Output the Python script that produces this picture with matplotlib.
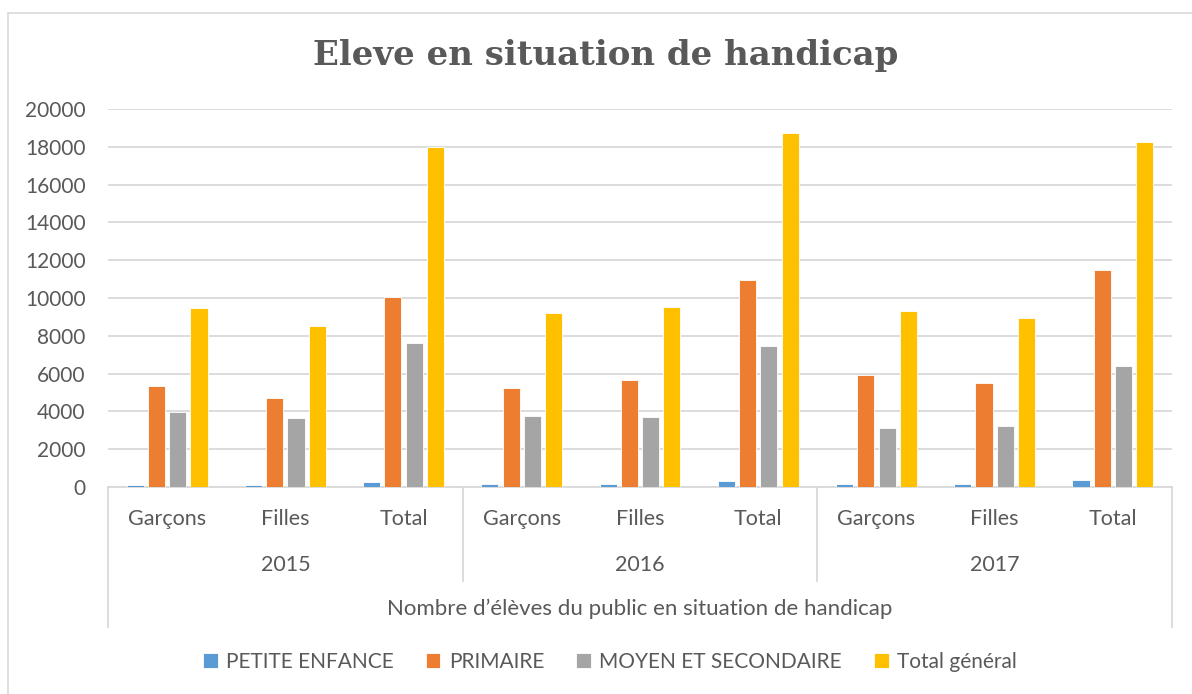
import matplotlib
matplotlib.use("Agg")
import matplotlib.pyplot as plt
from matplotlib.patches import Rectangle
from matplotlib.lines import Line2D
import numpy as np

plt.rcParams['font.family'] = ['Lato', 'DejaVu Sans']

years = ["2015", "2016", "2017"]
subcats = ["Garçons", "Filles", "Total"]
series_names = ["PETITE ENFANCE", "PRIMAIRE", "MOYEN ET SECONDAIRE", "Total général"]
petite_enfance = [120, 105, 264, 159, 141, 317, 176, 176, 388]
primaire = [5357, 4705, 10062, 5251, 5656, 10943, 5938, 5480, 11471]
moyen_secondaire = [3965, 3648, 7612, 3753, 3683, 7454, 3137, 3242, 6396]
total_general = [9480, 8511, 17991, 9216, 9533, 18749, 9322, 8952, 18273]
outer_label = "Nombre d\u2019élèves du public en situation de handicap"
title = "Eleve en situation de handicap"
yticks = list(range(0, 20001, 2000))

colors = ["#5B9BD5", "#ED7D31", "#A5A5A5", "#FFC000"]
text_col = "#595959"
grid_col = "#D9D9D9"

W, H = 1192, 694
fig = plt.figure(figsize=(W / 100, H / 100), dpi=100)

def fx(px):
    return px / W

def fy(py):
    return 1 - py / H

# outer border (only top and left visible)
fig.add_artist(Rectangle((fx(8), fy(900)), fx(1400), fy(13) - fy(900),
                         transform=fig.transFigure, fill=False,
                         edgecolor=grid_col, linewidth=1.2))

left, right, top, bottom = 108, 1172, 109, 487
ax = fig.add_axes([fx(left), fy(bottom), fx(right - left), fy(top) - fy(bottom)])

n = len(years) * len(subcats)
x = np.arange(n)
pitch = 0.18
bw = 0.145
all_series = [petite_enfance, primaire, moyen_secondaire, total_general]
for i, (vals, c, name) in enumerate(zip(all_series, colors, series_names)):
    ax.bar(x + (i - 1.5) * pitch, vals, width=bw, color=c, label=name,
           edgecolor="white", linewidth=0.6, zorder=3)

ax.set_xlim(-0.5, n - 0.5)
ax.set_ylim(0, 20000)
ax.set_yticks(yticks)
ax.set_yticklabels([str(v) for v in yticks], fontsize=15, color=text_col)
ax.yaxis.grid(True, color=grid_col, linewidth=1.3, zorder=0)
ax.set_axisbelow(True)
ax.tick_params(axis='y', length=0, pad=16)
ax.tick_params(axis='x', length=0)
ax.set_xticks([])
for s in ["top", "right", "left"]:
    ax.spines[s].set_visible(False)
ax.spines["bottom"].set_color(grid_col)
ax.spines["bottom"].set_linewidth(1.3)

# multi-level category axis
def vline(px, y0, y1):
    fig.add_artist(Line2D([fx(px), fx(px)], [fy(y0), fy(y1)],
                          transform=fig.transFigure, color=grid_col, linewidth=1.3))

vline(left, bottom, 627)
vline(right, bottom, 627)
grp_w = (right - left) / len(years)
for k in range(1, len(years)):
    vline(left + k * grp_w, bottom, 581)

cat_w = (right - left) / n
for j in range(n):
    cx = left + (j + 0.5) * cat_w
    fig.text(fx(cx), fy(519), subcats[j % 3], ha="center", va="center",
             fontsize=15.5, color=text_col)
for k, yr in enumerate(years):
    cx = left + (k + 0.5) * grp_w
    fig.text(fx(cx), fy(565), yr, ha="center", va="center",
             fontsize=15.5, color=text_col)
fig.text(fx((left + right) / 2), fy(609), outer_label, ha="center", va="center",
         fontsize=16, color=text_col)

fig.text(fx(606), fy(55), title, ha="center", va="center", fontsize=24.5,
         fontweight="bold", color=text_col, family=["DejaVu Serif"])

leg = fig.legend(loc="center", bbox_to_anchor=(fx(610), fy(662)), ncol=4,
                 frameon=False, fontsize=15, handlelength=0.7, handleheight=0.7,
                 handletextpad=0.4, columnspacing=1.55)
for t in leg.get_texts():
    t.set_color(text_col)

fig.savefig("out.png", dpi=100)
